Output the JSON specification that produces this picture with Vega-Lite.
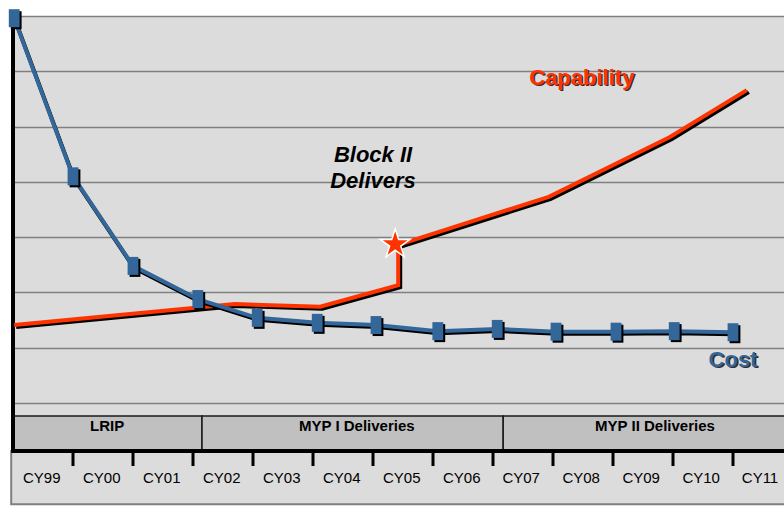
{
  "$schema": "https://vega.github.io/schema/vega-lite/v6.json",
  "autosize": {"type": "none"},
  "width": 771,
  "height": 489,
  "padding": {"left": 13, "top": 16, "right": 0, "bottom": 5},
  "background": "#ffffff",
  "config": {
    "view": {"stroke": null, "fill": "#dcdcdc"},
    "font": "Liberation Sans",
    "axis": {"domain": false, "ticks": false, "labels": false, "grid": false, "title": null},
    "axisY": {"grid": true, "gridColor": "#808080", "gridWidth": 1.5, "gridOpacity": 1}
  },
  "datasets": {
    "cost": [
      {"year": "CY99", "x": 0.02, "y": 6.96},
      {"year": "CY00", "x": 1.0, "y": 4.1},
      {"year": "CY01", "x": 2.0, "y": 2.48},
      {"year": "CY02", "x": 3.08, "y": 1.88},
      {"year": "CY03", "x": 4.07, "y": 1.54},
      {"year": "CY04", "x": 5.07, "y": 1.45},
      {"year": "CY05", "x": 6.05, "y": 1.41},
      {"year": "CY06", "x": 7.08, "y": 1.3},
      {"year": "CY07", "x": 8.07, "y": 1.34},
      {"year": "CY08", "x": 9.05, "y": 1.29},
      {"year": "CY09", "x": 10.05, "y": 1.29},
      {"year": "CY10", "x": 11.02, "y": 1.3},
      {"year": "CY11", "x": 12.0, "y": 1.28}
    ],
    "capability": [
      {"order": 1, "x": 0.02, "y": 1.41},
      {"order": 2, "x": 3.7, "y": 1.79},
      {"order": 3, "x": 5.12, "y": 1.74},
      {"order": 4, "x": 6.42, "y": 2.13},
      {"order": 5, "x": 6.42, "y": 2.86},
      {"order": 6, "x": 8.93, "y": 3.73},
      {"order": 7, "x": 10.95, "y": 4.81},
      {"order": 8, "x": 12.23, "y": 5.66}
    ],
    "bands": [
      {"band": "LRIP", "start": 0, "end": 3.15, "mid": 1.57},
      {"band": "MYP I Deliveries", "start": 3.15, "end": 8.17, "mid": 5.73},
      {"band": "MYP II Deliveries", "start": 8.17, "end": 13.5, "mid": 10.7}
    ],
    "years": [
      {"label": "CY99", "start": 0, "mid": 0.48},
      {"label": "CY00", "start": 1, "mid": 1.48},
      {"label": "CY01", "start": 2, "mid": 2.48},
      {"label": "CY02", "start": 3, "mid": 3.48},
      {"label": "CY03", "start": 4, "mid": 4.48},
      {"label": "CY04", "start": 5, "mid": 5.48},
      {"label": "CY05", "start": 6, "mid": 6.48},
      {"label": "CY06", "start": 7, "mid": 7.48},
      {"label": "CY07", "start": 8, "mid": 8.47},
      {"label": "CY08", "start": 9, "mid": 9.47},
      {"label": "CY09", "start": 10, "mid": 10.47},
      {"label": "CY10", "start": 11, "mid": 11.47},
      {"label": "CY11", "start": 12, "mid": 12.45}
    ],
    "notes": [
      {"note": "Capability", "series": "Capability", "px": 9.48, "py": 5.88},
      {"note": "Cost", "series": "Cost", "px": 12.0, "py": 0.78},
      {"note": "Block II", "series": "Milestone", "px": 6.0, "py": 4.48},
      {"note": "Delivers", "series": "Milestone", "px": 6.0, "py": 4.01}
    ],
    "milestone": [{"event": "Block II Delivers", "px": 6.37, "py": 2.87}],
    "frame": [{"part": "frame"}]
  },
  "layer": [
    {
      "data": {"name": "frame"},
      "mark": {"type": "rect", "fill": "#dcdcdc", "stroke": "#808080", "strokeWidth": 2},
      "encoding": {
        "x": {"datum": -0.03, "type": "quantitative", "scale": {"domain": [0, 12.85], "nice": false, "zero": false}, "axis": null},
        "x2": {"datum": 13.5},
        "y": {"datum": -0.868, "type": "quantitative", "scale": {"domain": [-1.845, 7], "nice": false, "zero": false}, "axis": {"values": [0, 1, 2, 3, 4, 5, 6, 7], "title": null}},
        "y2": {"datum": -1.83}
      }
    },
    {
      "data": {"name": "bands"},
      "mark": {"type": "rect", "fill": "#c0c0c0", "stroke": "#1a1a1a", "strokeWidth": 1.5},
      "encoding": {
        "x": {"field": "start", "type": "quantitative", "scale": {"domain": [0, 12.85], "nice": false, "zero": false}, "axis": null},
        "x2": {"field": "end"},
        "y": {"datum": -0.235, "type": "quantitative", "scale": {"domain": [-1.845, 7], "nice": false, "zero": false}, "axis": {"values": [0, 1, 2, 3, 4, 5, 6, 7], "title": null}},
        "y2": {"datum": -0.868}
      }
    },
    {
      "data": {"name": "frame"},
      "mark": {"type": "rule", "color": "#000000", "strokeWidth": 4},
      "encoding": {
        "x": {"datum": -0.03, "type": "quantitative", "scale": {"domain": [0, 12.85], "nice": false, "zero": false}, "axis": null},
        "x2": {"datum": 13.5},
        "y": {"datum": -0.868, "type": "quantitative", "scale": {"domain": [-1.845, 7], "nice": false, "zero": false}, "axis": {"values": [0, 1, 2, 3, 4, 5, 6, 7], "title": null}}
      }
    },
    {
      "data": {"name": "frame"},
      "mark": {"type": "rule", "color": "#000000", "strokeWidth": 4},
      "encoding": {
        "x": {"datum": 0, "type": "quantitative", "scale": {"domain": [0, 12.85], "nice": false, "zero": false}, "axis": null},
        "y": {"datum": 7, "type": "quantitative", "scale": {"domain": [-1.845, 7], "nice": false, "zero": false}, "axis": {"values": [0, 1, 2, 3, 4, 5, 6, 7], "title": null}},
        "y2": {"datum": -0.868}
      }
    },
    {
      "data": {"name": "years"},
      "transform": [{"filter": "datum.start > 0"}],
      "mark": {"type": "rule", "color": "#000000", "strokeWidth": 3},
      "encoding": {
        "x": {"field": "start", "type": "quantitative", "scale": {"domain": [0, 12.85], "nice": false, "zero": false}, "axis": null},
        "y": {"datum": -0.868, "type": "quantitative", "scale": {"domain": [-1.845, 7], "nice": false, "zero": false}, "axis": {"values": [0, 1, 2, 3, 4, 5, 6, 7], "title": null}},
        "y2": {"datum": -1.14}
      }
    },
    {
      "data": {"name": "years"},
      "mark": {"type": "text", "fontSize": 15, "color": "#000000", "align": "center", "baseline": "middle"},
      "encoding": {
        "x": {"field": "mid", "type": "quantitative", "scale": {"domain": [0, 12.85], "nice": false, "zero": false}, "axis": null},
        "y": {"datum": -1.356, "type": "quantitative", "scale": {"domain": [-1.845, 7], "nice": false, "zero": false}, "axis": {"values": [0, 1, 2, 3, 4, 5, 6, 7], "title": null}},
        "text": {"field": "label"}
      }
    },
    {
      "data": {"name": "bands"},
      "mark": {"type": "text", "fontSize": 15, "fontWeight": "bold", "color": "#000000", "align": "center", "baseline": "middle"},
      "encoding": {
        "x": {"field": "mid", "type": "quantitative", "scale": {"domain": [0, 12.85], "nice": false, "zero": false}, "axis": null},
        "y": {"datum": -0.42, "type": "quantitative", "scale": {"domain": [-1.845, 7], "nice": false, "zero": false}, "axis": {"values": [0, 1, 2, 3, 4, 5, 6, 7], "title": null}},
        "text": {"field": "band"}
      }
    },
    {
      "data": {"name": "capability"},
      "mark": {"type": "line", "color": "#000000", "strokeWidth": 4, "xOffset": 2, "yOffset": 2},
      "encoding": {
        "x": {"field": "x", "type": "quantitative", "scale": {"domain": [0, 12.85], "nice": false, "zero": false}, "axis": null},
        "y": {"field": "y", "type": "quantitative", "scale": {"domain": [-1.845, 7], "nice": false, "zero": false}, "axis": {"values": [0, 1, 2, 3, 4, 5, 6, 7], "title": null}},
        "order": {"field": "order", "type": "quantitative"}
      }
    },
    {
      "data": {"name": "capability"},
      "mark": {"type": "line", "color": "#ff3300", "strokeWidth": 4},
      "encoding": {
        "x": {"field": "x", "type": "quantitative", "scale": {"domain": [0, 12.85], "nice": false, "zero": false}, "axis": null},
        "y": {"field": "y", "type": "quantitative", "scale": {"domain": [-1.845, 7], "nice": false, "zero": false}, "axis": {"values": [0, 1, 2, 3, 4, 5, 6, 7], "title": null}},
        "order": {"field": "order", "type": "quantitative"}
      }
    },
    {
      "data": {"name": "cost"},
      "mark": {"type": "line", "color": "#000000", "strokeWidth": 4, "xOffset": 1, "yOffset": 2},
      "encoding": {
        "x": {"field": "x", "type": "quantitative", "scale": {"domain": [0, 12.85], "nice": false, "zero": false}, "axis": null},
        "y": {"field": "y", "type": "quantitative", "scale": {"domain": [-1.845, 7], "nice": false, "zero": false}, "axis": {"values": [0, 1, 2, 3, 4, 5, 6, 7], "title": null}}
      }
    },
    {
      "data": {"name": "cost"},
      "mark": {"type": "line", "color": "#336699", "strokeWidth": 4},
      "encoding": {
        "x": {"field": "x", "type": "quantitative", "scale": {"domain": [0, 12.85], "nice": false, "zero": false}, "axis": null},
        "y": {"field": "y", "type": "quantitative", "scale": {"domain": [-1.845, 7], "nice": false, "zero": false}, "axis": {"values": [0, 1, 2, 3, 4, 5, 6, 7], "title": null}}
      }
    },
    {
      "data": {"name": "cost"},
      "mark": {"type": "point", "shape": "M-0.6,-1H0.6V1H-0.6Z", "size": 324, "filled": true, "color": "#000000", "opacity": 1, "xOffset": 2, "yOffset": 2},
      "encoding": {
        "x": {"field": "x", "type": "quantitative", "scale": {"domain": [0, 12.85], "nice": false, "zero": false}, "axis": null},
        "y": {"field": "y", "type": "quantitative", "scale": {"domain": [-1.845, 7], "nice": false, "zero": false}, "axis": {"values": [0, 1, 2, 3, 4, 5, 6, 7], "title": null}}
      }
    },
    {
      "data": {"name": "cost"},
      "mark": {"type": "point", "shape": "M-0.6,-1H0.6V1H-0.6Z", "size": 324, "filled": true, "color": "#336699", "opacity": 1},
      "encoding": {
        "x": {"field": "x", "type": "quantitative", "scale": {"domain": [0, 12.85], "nice": false, "zero": false}, "axis": null},
        "y": {"field": "y", "type": "quantitative", "scale": {"domain": [-1.845, 7], "nice": false, "zero": false}, "axis": {"values": [0, 1, 2, 3, 4, 5, 6, 7], "title": null}}
      }
    },
    {
      "data": {"name": "milestone"},
      "mark": {"type": "point", "shape": "M0,-1L0.2245,-0.309L0.951,-0.309L0.363,0.118L0.588,0.809L0,0.382L-0.588,0.809L-0.363,0.118L-0.951,-0.309L-0.2245,-0.309Z", "size": 950, "filled": true, "fill": "#ff3300", "stroke": "#ffffff", "strokeWidth": 1.5, "opacity": 1},
      "encoding": {
        "x": {"field": "px", "type": "quantitative", "scale": {"domain": [0, 12.85], "nice": false, "zero": false}, "axis": null},
        "y": {"field": "py", "type": "quantitative", "scale": {"domain": [-1.845, 7], "nice": false, "zero": false}, "axis": {"values": [0, 1, 2, 3, 4, 5, 6, 7], "title": null}}
      }
    },
    {
      "data": {"name": "notes"},
      "transform": [{"filter": "datum.series != 'Milestone'"}],
      "mark": {"type": "text", "fontSize": 22, "fontWeight": "bold", "color": "#3a2a2a", "dx": 1.5, "dy": 1.5, "align": "center", "baseline": "middle"},
      "encoding": {
        "x": {"field": "px", "type": "quantitative", "scale": {"domain": [0, 12.85], "nice": false, "zero": false}, "axis": null},
        "y": {"field": "py", "type": "quantitative", "scale": {"domain": [-1.845, 7], "nice": false, "zero": false}, "axis": {"values": [0, 1, 2, 3, 4, 5, 6, 7], "title": null}},
        "text": {"field": "note"}
      }
    },
    {
      "data": {"name": "notes"},
      "transform": [{"filter": "datum.series != 'Milestone'"}],
      "mark": {"type": "text", "fontSize": 22, "fontWeight": "bold", "align": "center", "baseline": "middle"},
      "encoding": {
        "x": {"field": "px", "type": "quantitative", "scale": {"domain": [0, 12.85], "nice": false, "zero": false}, "axis": null},
        "y": {"field": "py", "type": "quantitative", "scale": {"domain": [-1.845, 7], "nice": false, "zero": false}, "axis": {"values": [0, 1, 2, 3, 4, 5, 6, 7], "title": null}},
        "text": {"field": "note"},
        "color": {"field": "series", "type": "nominal", "scale": {"domain": ["Capability", "Cost"], "range": ["#ff3300", "#336699"]}, "legend": null}
      }
    },
    {
      "data": {"name": "notes"},
      "transform": [{"filter": "datum.series == 'Milestone'"}],
      "mark": {"type": "text", "fontSize": 22, "fontWeight": "bold", "fontStyle": "italic", "color": "#000000", "align": "center", "baseline": "middle"},
      "encoding": {
        "x": {"field": "px", "type": "quantitative", "scale": {"domain": [0, 12.85], "nice": false, "zero": false}, "axis": null},
        "y": {"field": "py", "type": "quantitative", "scale": {"domain": [-1.845, 7], "nice": false, "zero": false}, "axis": {"values": [0, 1, 2, 3, 4, 5, 6, 7], "title": null}},
        "text": {"field": "note"}
      }
    }
  ]
}
